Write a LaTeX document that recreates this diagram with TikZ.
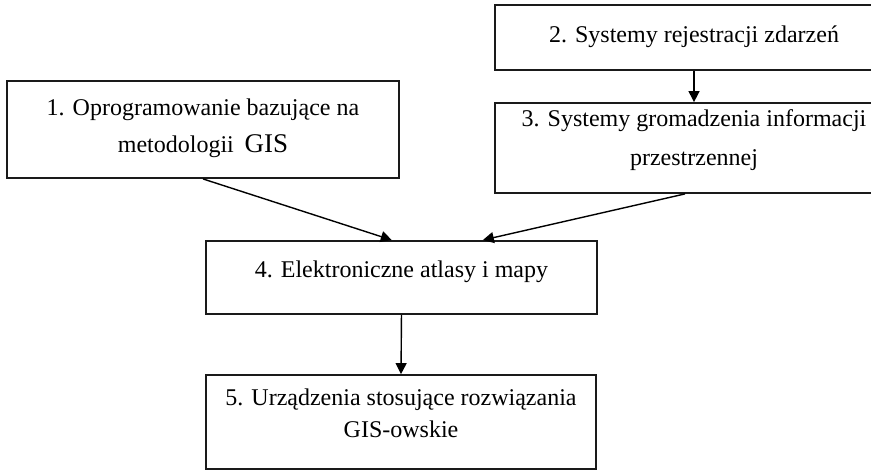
\documentclass[tikz,border=0pt]{standalone}
\usepackage{fontspec}
\setmainfont{Liberation Serif}
\usetikzlibrary{arrows.meta, positioning}
\definecolor{boxLine}{HTML}{1A1A1A}
\definecolor{arrowLine}{HTML}{000000}

\begin{document}
\begin{tikzpicture}[
  font=\fontsize{12}{14.5}\selectfont,
  box/.style  ={draw=boxLine, line width=0.9pt, align=center, inner sep=0pt},
  wide/.style ={box, minimum width=6.99cm},
  flow/.style ={-{Triangle[length=5.5pt, width=5.5pt]}, draw=arrowLine, line width=0.7pt},
]
\clip (0,0) rectangle (15.306,-8.259);

% ----- Left source -----
\node[box, minimum width=6.889cm, minimum height=1.705cm,
      text height=26.5pt, text depth=4pt] (SOFT) at (3.567, -2.276)
  {1. Oprogramowanie bazujące na\\[4pt]
   metodologii\hspace{0.45em}{\fontsize{13.5}{14.5}\selectfont GIS}};

% ----- Right column -----
\node[wide, minimum height=1.142cm, text height=9pt, text depth=3.5pt]
  (REJ) at (12.196, -0.659) {2. Systemy rejestracji zdarzeń};
\node[wide, minimum height=1.582cm, text height=21pt, text depth=4pt]
  (GROM) at (12.196, -2.601)
  {3. Systemy gromadzenia informacji\\[5pt]
   przestrzennej};

% ----- Atlases and devices -----
\node[box, minimum width=6.871cm, minimum height=1.283cm,
      text height=9pt, text depth=9pt] (ATLAS) at (7.055, -4.876)
  {4. Elektroniczne atlasy i mapy};
\node[box, minimum width=6.853cm, minimum height=1.652cm,
      text height=19pt, text depth=4pt] (DEV) at (7.047, -7.416)
  {5. Urządzenia stosujące rozwiązania\\[1.5pt]
   GIS-owskie};

% ----- Arrows -----
\draw[flow] (REJ.south) -- (GROM.north);
\draw[flow] (SOFT.south) -- ([xshift=-0.17cm]ATLAS.north);
\draw[flow] ([xshift=-0.16cm]GROM.south) -- ([xshift=1.43cm]ATLAS.north);
\draw[flow] (ATLAS.south) -- (DEV.north);

\end{tikzpicture}
\end{document}
